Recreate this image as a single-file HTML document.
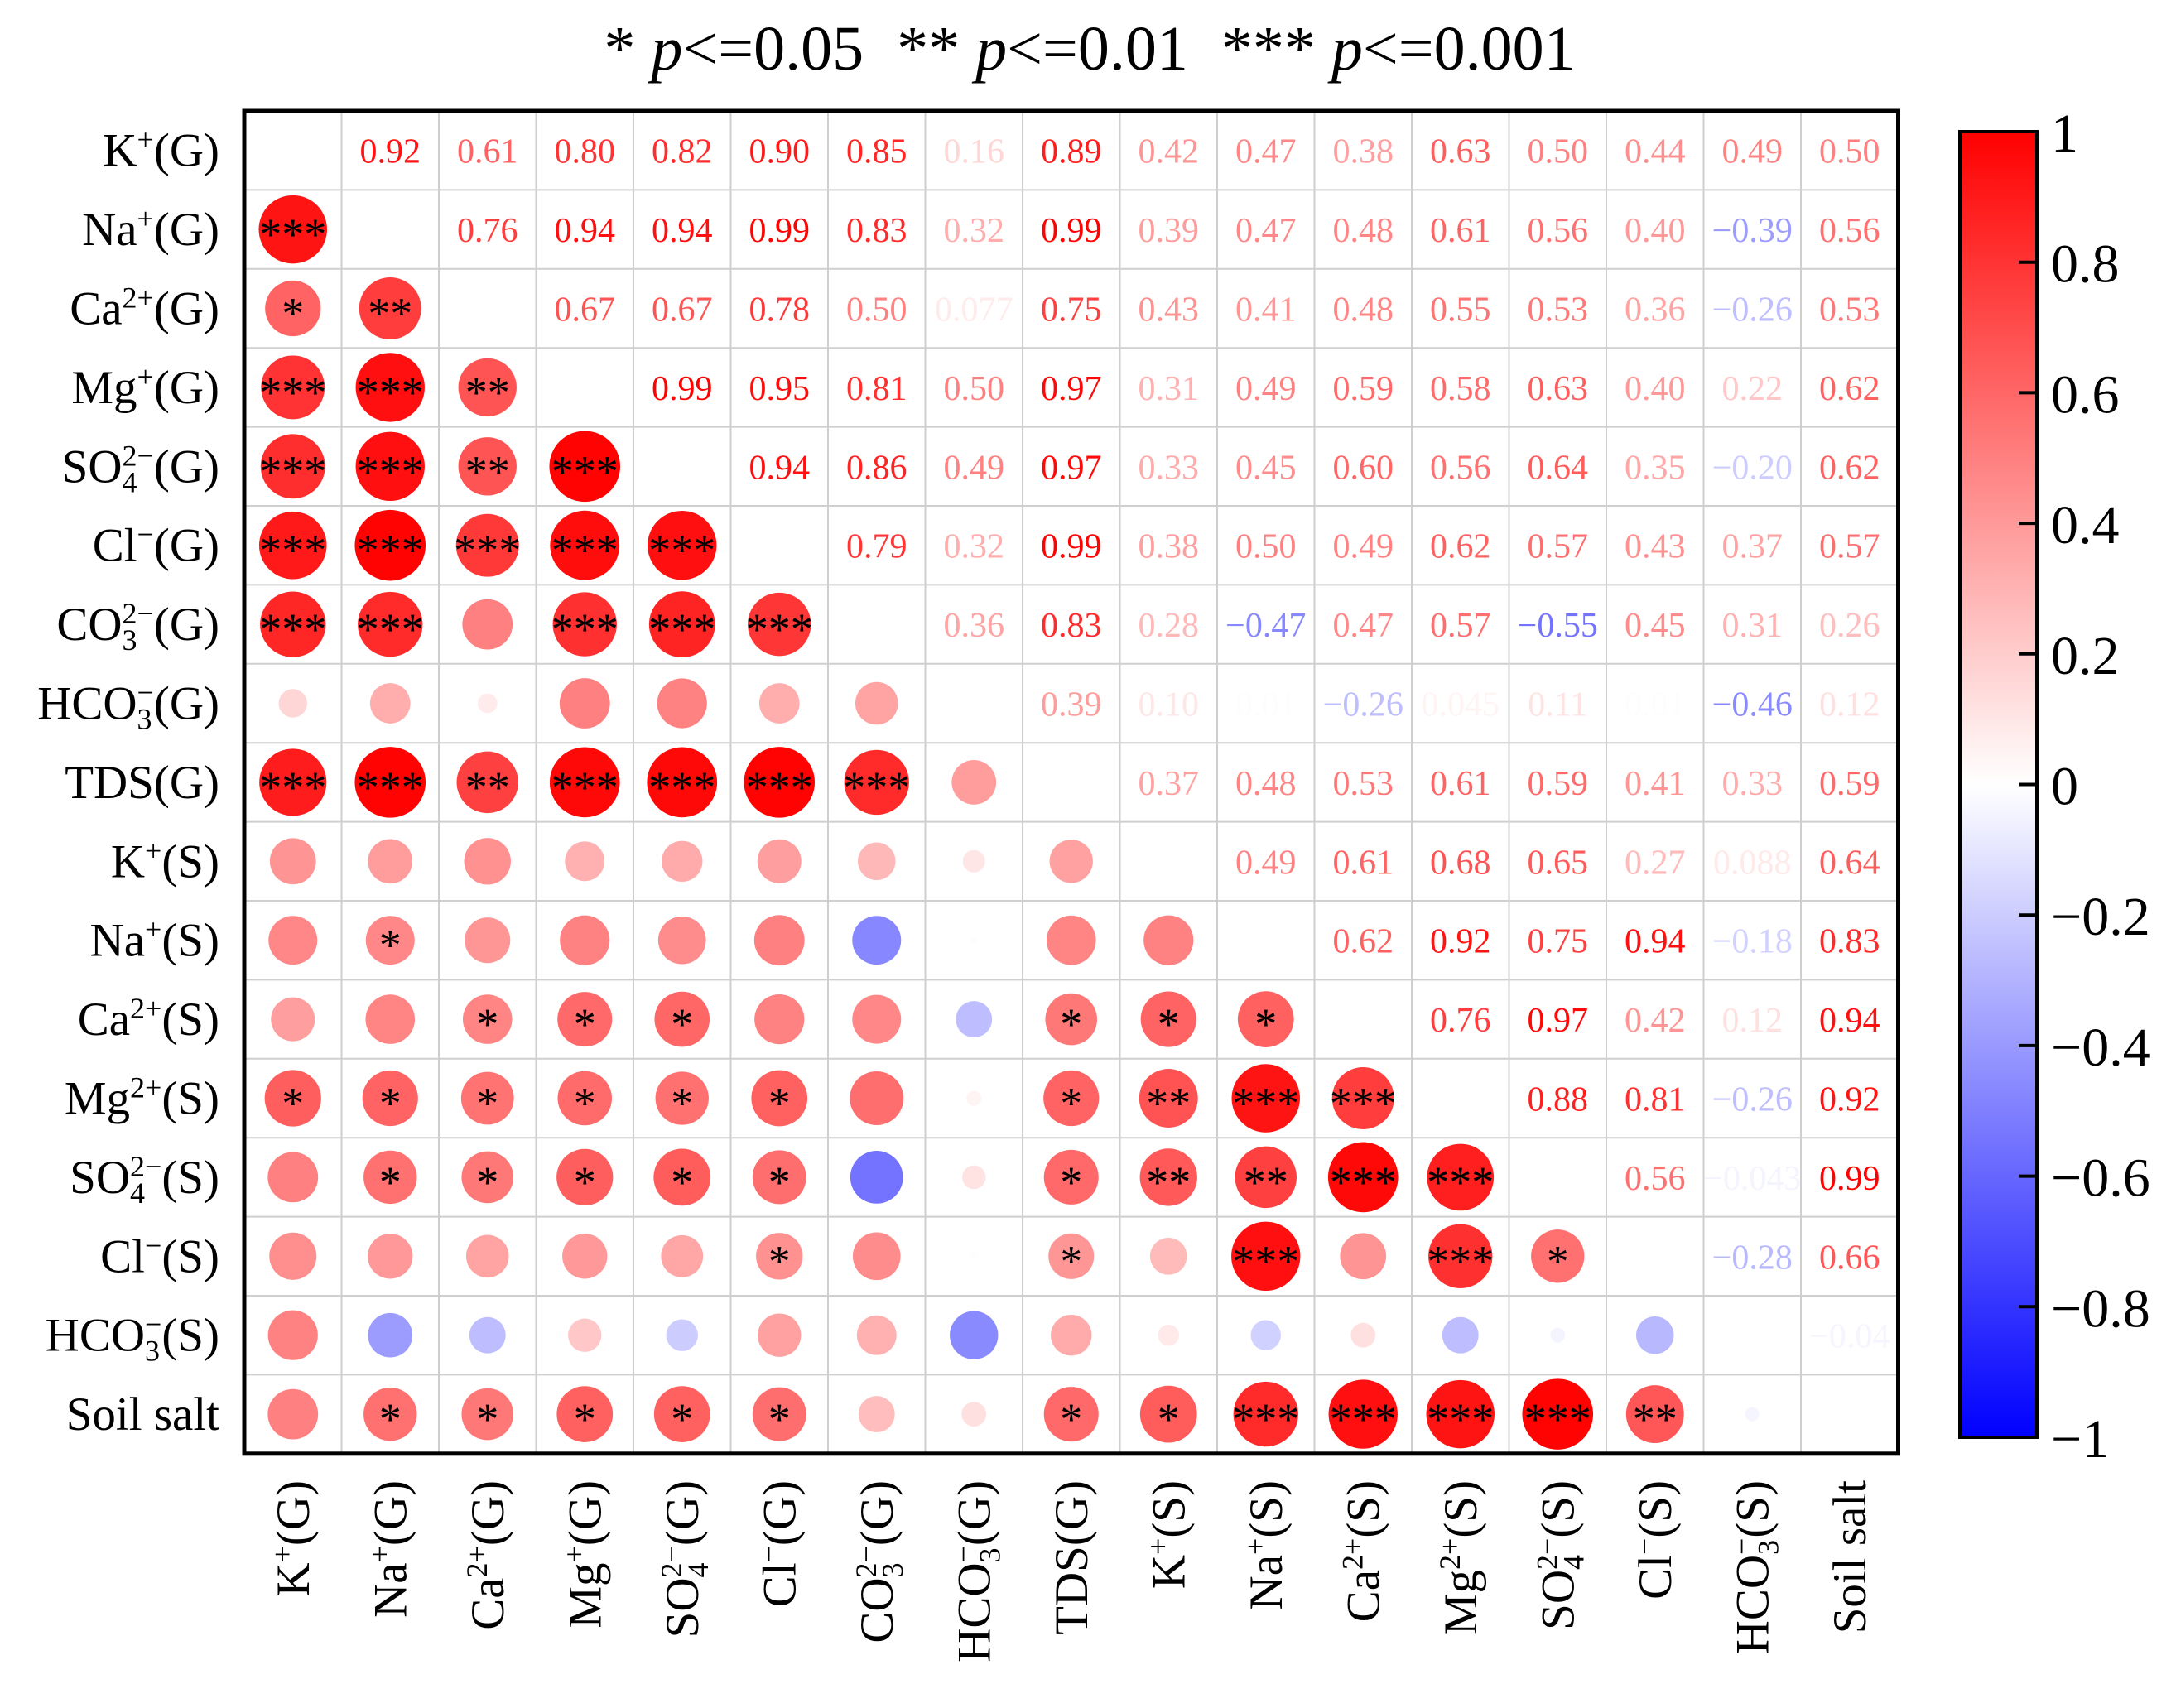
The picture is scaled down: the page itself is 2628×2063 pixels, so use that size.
<!DOCTYPE html>
<html><head><meta charset="utf-8"><style>
html,body{margin:0;padding:0;background:#fff}
svg{display:block;font-family:"Liberation Serif",serif}
</style></head><body>
<svg id="chart" width="2628" height="2063" viewBox="0 0 2628 2063" xmlns="http://www.w3.org/2000/svg">
<defs><linearGradient id="cbg" x1="0" y1="0" x2="0" y2="1">
<stop offset="0" stop-color="#ff0000"/><stop offset="0.5" stop-color="#ffffff"/><stop offset="1" stop-color="#0000ff"/></linearGradient></defs>
<text x="1316" y="84" font-size="76" text-anchor="middle">* <tspan font-style="italic">p</tspan>&lt;=0.05<tspan dx="40">** </tspan><tspan font-style="italic">p</tspan>&lt;=0.01<tspan dx="40">*** </tspan><tspan font-style="italic">p</tspan>&lt;=0.001</text>
<g id="grid"></g><g id="marks"></g><g id="labels"></g><g id="cbar"></g>
</svg>
<script>
const labels = [["K","+","","(G)"],["Na","+","","(G)"],["Ca","2+","","(G)"],["Mg","+","","(G)"],["SO","2−","4","(G)"],["Cl","−","","(G)"],["CO","2−","3","(G)"],["HCO","−","3","(G)"],["TDS(G)","","",""],["K","+","","(S)"],["Na","+","","(S)"],["Ca","2+","","(S)"],["Mg","2+","","(S)"],["SO","2−","4","(S)"],["Cl","−","","(S)"],["HCO","−","3","(S)"],["Soil salt","","",""]];
const upper = [
[0.92,0.61,0.80,0.82,0.90,0.85,0.16,0.89,0.42,0.47,0.38,0.63,0.50,0.44,0.49,0.50],
[0.76,0.94,0.94,0.99,0.83,0.32,0.99,0.39,0.47,0.48,0.61,0.56,0.40,-0.39,0.56],
[0.67,0.67,0.78,0.50,0.077,0.75,0.43,0.41,0.48,0.55,0.53,0.36,-0.26,0.53],
[0.99,0.95,0.81,0.50,0.97,0.31,0.49,0.59,0.58,0.63,0.40,0.22,0.62],
[0.94,0.86,0.49,0.97,0.33,0.45,0.60,0.56,0.64,0.35,-0.20,0.62],
[0.79,0.32,0.99,0.38,0.50,0.49,0.62,0.57,0.43,0.37,0.57],
[0.36,0.83,0.28,-0.47,0.47,0.57,-0.55,0.45,0.31,0.26],
[0.39,0.10,0.01,-0.26,0.045,0.11,0.01,-0.46,0.12],
[0.37,0.48,0.53,0.61,0.59,0.41,0.33,0.59],
[0.49,0.61,0.68,0.65,0.27,0.088,0.64],
[0.62,0.92,0.75,0.94,-0.18,0.83],
[0.76,0.97,0.42,0.12,0.94],
[0.88,0.81,-0.26,0.92],
[0.56,-0.043,0.99],
[-0.28,0.66],
[-0.040]];
const stars = [[],[3],[1,2],[3,3,2],[3,3,2,3],[3,3,3,3,3],[3,3,0,3,3,3],[0,0,0,0,0,0,0],[3,3,2,3,3,3,3,0],
[0,0,0,0,0,0,0,0,0],[0,1,0,0,0,0,0,0,0,0],[0,0,1,1,1,0,0,0,1,1,1],[1,1,1,1,1,1,0,0,1,2,3,3],
[0,1,1,1,1,1,0,0,1,2,2,3,3],[0,0,0,0,0,1,0,0,1,0,3,0,3,1],[0,0,0,0,0,0,0,0,0,0,0,0,0,0,0],
[0,1,1,1,1,1,0,0,1,1,3,3,3,3,2,0]];
const cbTicks = [1,0.8,0.6,0.4,0.2,0,-0.2,-0.4,-0.6,-0.8,-1];

const NS="http://www.w3.org/2000/svg";
const N=labels.length, X0=295, Y0=134, CW=117.5, RH=95.4, RMAX=43;
const cx=j=>X0+CW*(j+0.5), cy=i=>Y0+RH*(i+0.5);
function col(v){const t=Math.round(255*(1-Math.abs(v)));return v>=0?`rgb(255,${t},${t})`:`rgb(${t},${t},255)`;}
function mk(tag,attrs,parent){const e=document.createElementNS(NS,tag);for(const k in attrs)e.setAttribute(k,attrs[k]);parent.appendChild(e);return e;}
function val(i,j){return i<j?upper[i][j-i-1]:upper[j][i-j-1];}
const grid=document.getElementById('grid'),marks=document.getElementById('marks'),lab=document.getElementById('labels'),cb=document.getElementById('cbar');
for(let k=1;k<N;k++){
 mk('line',{x1:X0+CW*k,x2:X0+CW*k,y1:Y0,y2:Y0+RH*N,stroke:'#cfcfcf','stroke-width':2},grid);
 mk('line',{x1:X0,x2:X0+CW*N,y1:Y0+RH*k,y2:Y0+RH*k,stroke:'#cfcfcf','stroke-width':2},grid);
}
for(let i=0;i<N;i++)for(let j=0;j<N;j++){
 if(i===j)continue;
 const v=val(i,j);
 if(i<j){
  const t=mk('text',{x:cx(j),y:cy(i)+15,'font-size':42,'text-anchor':'middle',fill:col(v)},marks);
  
  
  const a=Math.abs(v);
  let s=a<0.1?(String(a).length>=5?String(a):a.toFixed(3).replace(/0$/,'')):a.toFixed(2);
  t.textContent=(v<0?'−':'')+s;
 }else{
  const c=mk('circle',{cx:cx(j),cy:cy(i),r:RMAX*Math.sqrt(Math.abs(v)),fill:col(v)},marks);
  
  
  const st=stars[i][j]||0;
  if(st){const t=mk('text',{x:cx(j),y:cy(i)+24,'font-size':54,'text-anchor':'middle',fill:'#000'},marks);
   
   
   t.textContent='*'.repeat(st);}
 }
}
mk('rect',{x:X0,y:Y0,width:CW*N,height:RH*N,fill:'none',stroke:'#000','stroke-width':5},grid);
function fillLabel(t,L){
 t.appendChild(document.createTextNode(L[0]));
 if(L[2]){const s=mk('tspan',{'font-size':36,dy:12},t);s.textContent=L[2];}
 if(L[1]){const s=mk('tspan',{'font-size':36,dy:L[2]?-32:-20,dx:L[2]?-18:0},t);s.textContent=L[1];}
 if(L[3]){const s=mk('tspan',{dy:20},t);s.textContent=L[3];}
}
for(let i=0;i<N;i++){
 const t=mk('text',{x:265,y:cy(i)+19,'font-size':57,'text-anchor':'end'},lab);
 
 
 fillLabel(t,labels[i]);
 const c=mk('text',{x:0,y:0,'font-size':57,'text-anchor':'end',transform:`translate(${cx(i)+19},1788) rotate(-90)`},lab);
 
 
 fillLabel(c,labels[i]);
}
const CBX=2367,CBW=93,CBT=159,CBB=1736;
const cbY=v=>CBT+(1-v)/2*(CBB-CBT);
const r=mk('rect',{x:CBX,y:CBT,width:CBW,height:CBB-CBT,fill:'url(#cbg)',stroke:'#000','stroke-width':4},cb);


for(const v of cbTicks){
 mk('line',{x1:CBX+CBW-22,x2:CBX+CBW,y1:cbY(v),y2:cbY(v),stroke:'#000','stroke-width':4},cb);
 const t=mk('text',{x:2477,y:cbY(v)+24,'font-size':66},cb);
 
 
 t.textContent=(v<0?'−':'')+String(Math.abs(v));
}
</script>
</body></html>
